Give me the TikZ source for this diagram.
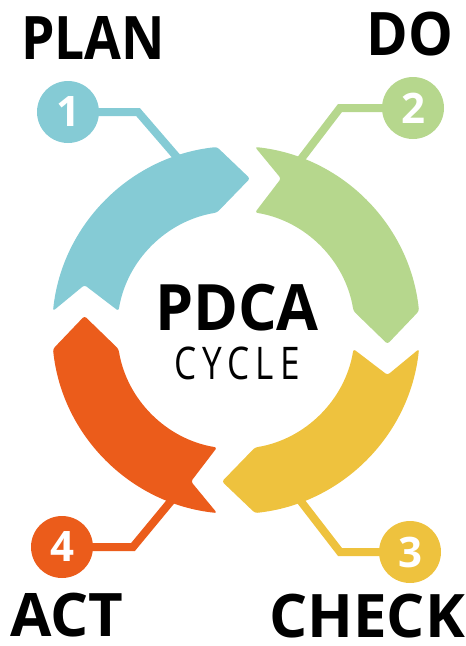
\documentclass[tikz,border=0pt]{standalone}
\usepackage{graphicx}
\usepackage{fontspec}
\setmainfont{Open Sans}
\definecolor{cblue}{HTML}{85CBD5}
\definecolor{cgreen}{HTML}{B6D78D}
\definecolor{cyellow}{HTML}{EEC23E}
\definecolor{corange}{HTML}{EB5C1B}
\begin{document}
\begin{tikzpicture}[x=1pt,y=-1pt,
  seg/.style={rounded corners=2.5pt},
  numc/.style={circle, minimum size=62pt, inner sep=0pt, text=white,
    font=\fontsize{42}{42}\selectfont\bfseries},
  conn/.style={line width=8pt, line join=miter},
  lab/.style={font=\fontsize{60}{60}\selectfont\bfseries, anchor=base, inner sep=0pt}]
\useasboundingbox (0,0) rectangle (466,646);

% labels
\node[lab] (plan) at (93,59) {\scalebox{0.89}[1]{PLAN}};
\node[lab] (do) at (410,55) {\scalebox{0.94}[1]{DO}};
\node[lab] (act) at (67,636) {ACT};
\node[lab] (check) at (367,637) {CHECK};

% connector bends and ends
\coordinate (b1) at (138,112); \coordinate (e1) at (182,163);
\coordinate (b2) at (340,108); \coordinate (e2) at (298,163);
\coordinate (b3) at (340,552); \coordinate (e3) at (296,495);
\coordinate (b4) at (133,547); \coordinate (e4) at (176,495);
\coordinate (p1) at (68,112); \coordinate (p2) at (413,108);
\coordinate (p3) at (410,552); \coordinate (p4) at (62,547);
\draw[conn, cblue] (p1) -- (b1) -- (e1);
\draw[conn, cgreen] (p2) -- (b2) -- (e2);
\draw[conn, cyellow] (p3) -- (b3) -- (e3);
\draw[conn, corange] (p4) -- (b4) -- (e4);

% number circles
\node[numc, fill=cblue] (n1) at (p1) {1};
\node[numc, fill=cgreen] (n2) at (p2) {2};
\node[numc, fill=cyellow] (n3) at (p3) {3};
\node[numc, fill=corange] (n4) at (p4) {4};

% ring segments
\begin{scope}[shift={(236,330)}, y=1pt]
\foreach \c/\r in {cblue/0, cgreen/-90, cyellow/-180, corange/90} {
  \fill[\c, rotate=\r, seg] (174.07:184) arc[start angle=174.07, end angle=95.93, radius=184]
    -- (14,151.5) -- (99.19:119) arc[start angle=99.19, end angle=170.81, radius=119]
    -- (-151.5,45) -- cycle;
}
\end{scope}

% centre text
\node[font=\fontsize{64}{64}\selectfont\bfseries, anchor=base, inner sep=0pt] (pdca) at (237,330) {\scalebox{0.95}[1]{PDCA}};
\node[font=\fontsize{45}{45}\selectfont, anchor=base, inner sep=0pt] (cycle) at (237,379) {\scalebox{0.78}[1]{C\,Y\,C\,L\,E}};
\end{tikzpicture}
\end{document}
